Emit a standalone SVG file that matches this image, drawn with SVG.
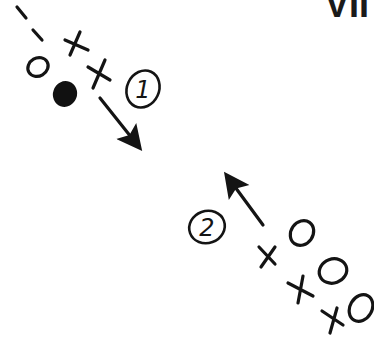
<svg xmlns="http://www.w3.org/2000/svg" width="374" height="340" viewBox="0 0 374 340">
<style>
.s{fill:none;stroke:#141414;stroke-width:3.2;stroke-linecap:round;stroke-linejoin:round}
.t{stroke:#141414;stroke-width:2.6;stroke-linecap:round;fill:none}
.lbl{font-family:"DejaVu Sans",sans-serif;font-size:24px;fill:#141414}
.title{font-family:"Liberation Sans",Arial,sans-serif;font-weight:bold;font-size:36px;fill:#1a1a1a}
</style>
<defs>
<marker id="ah" viewBox="0 0 10 10" refX="8" refY="5" markerWidth="8.5" markerHeight="8" orient="auto" markerUnits="strokeWidth">
<path d="M0,0 L10,5 L0,10 L2,5 Z" fill="#141414"/>
</marker>
</defs>
<rect width="374" height="340" fill="#fff"/>
<text class="title" x="325" y="17">VII</text>
<g id="team1">
<path class="s" d="M17,7 L26,18"/>
<path class="s" d="M33,30 L42,40"/>
<path class="s" d="M65,40 L88,50 M80,32 L70,55"/>
<path class="s" d="M88,67 L110,80 M105,60 L93,88"/>
<ellipse class="s" cx="38" cy="67" rx="10.5" ry="9" transform="rotate(-30 38 67)"/>
<ellipse cx="65" cy="94" rx="12" ry="13" fill="#111" transform="rotate(20 65 94)"/>
</g>
<g id="label1">
<ellipse class="t" cx="143" cy="89" rx="16" ry="19" transform="rotate(25 143 89)"/>
<text class="lbl" x="143" y="98" text-anchor="middle" font-style="italic">1</text>
</g>
<g id="team2">
<path class="s" d="M259,247 L275,264 M275,247 L261,267"/>
<ellipse class="s" cx="302" cy="233" rx="11" ry="13" transform="rotate(35 302 233)"/>
<path class="s" d="M288,283 L313,296 M303,276 L298,303"/>
<ellipse class="s" cx="333" cy="271" rx="14" ry="12" transform="rotate(-20 333 271)"/>
<path class="s" d="M322,311 L343,325 M337,308 L330,333"/>
<ellipse class="s" cx="361" cy="308" rx="11" ry="14" transform="rotate(30 361 308)"/>
</g>
<g id="label2">
<ellipse class="t" cx="207" cy="227" rx="18" ry="16" transform="rotate(-20 207 227)"/>
<text class="lbl" x="207" y="236" text-anchor="middle" font-style="italic">2</text>
</g>
<g id="connectors">
<path class="s" d="M100,98 L139,147" marker-end="url(#ah)"/>
<path class="s" d="M263,225 L227,176" marker-end="url(#ah)"/>
</g>
</svg>
